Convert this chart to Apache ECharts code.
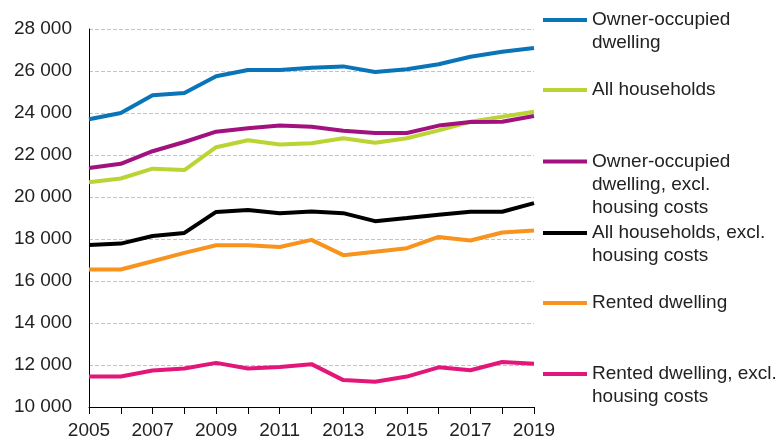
<!DOCTYPE html>
<html>
<head>
<meta charset="utf-8">
<script src="https://cdn.jsdelivr.net/npm/echarts@6/dist/echarts.min.js"></script>
<style>
  html, body { margin: 0; padding: 0; background: #fff; }
  #main { width: 777px; height: 444px; }
</style>
</head>
<body>
<div id="main"></div>
<script>
// years on the x axis
var years = ['2005','2006','2007','2008','2009','2010','2011','2012','2013','2014','2015','2016','2017','2018','2019'];

// series values
var ownerOccupied     = [23700, 24000, 24850, 24950, 25750, 26050, 26050, 26150, 26220, 25950, 26080, 26320, 26680, 26920, 27100];
var allHouseholds     = [20700, 20880, 21350, 21280, 22370, 22700, 22500, 22560, 22800, 22580, 22800, 23170, 23580, 23820, 24060];
var ownerOccExcl      = [21380, 21580, 22180, 22620, 23110, 23270, 23400, 23350, 23150, 23050, 23050, 23400, 23570, 23580, 23860];
var allHouseholdsExcl = [17720, 17780, 18140, 18290, 19290, 19380, 19230, 19310, 19230, 18850, 19000, 19160, 19300, 19300, 19710];
var rented            = [16550, 16550, 16940, 17340, 17700, 17700, 17620, 17960, 17230, 17390, 17560, 18100, 17930, 18310, 18400];
var rentedExcl        = [11450, 11450, 11740, 11830, 12100, 11830, 11900, 12040, 11280, 11200, 11450, 11890, 11750, 12140, 12060];

// legend texts (line breaks as in the picture)
var seriesNames = ['Owner-occupied dwelling', 'All households', 'Owner-occupied dwelling, excl. housing costs',
                   'All households, excl. housing costs', 'Rented dwelling', 'Rented dwelling, excl. housing costs'];
var legendLabels = ['Owner-occupied\ndwelling', 'All households', 'Owner-occupied\ndwelling, excl.\nhousing costs',
                    'All households, excl.\nhousing costs', 'Rented dwelling', 'Rented dwelling, excl.\nhousing costs'];
var seriesData = [ownerOccupied, allHouseholds, ownerOccExcl, allHouseholdsExcl, rented, rentedExcl];
var colors = ['#0a74b8', '#b9d433', '#a2127f', '#000000', '#f8931e', '#e3177a'];

var FONT = "'Liberation Sans', Arial, sans-serif";
var FS = 19;
var LH = 23;
var legendY = [20, 90, 161.5, 233, 303, 374]; // centre of first text line

var chart = echarts.init(document.getElementById('main'), null, { renderer: 'canvas' });

// one legend per series so each can sit where the picture has it,
// icon level with the first text line (blank lines pad the top)
var legends = seriesNames.map(function (name, i) {
  var label = legendLabels[i];
  var lines = label.split('\n').length;
  var padLines = '';
  for (var k = 1; k < lines; k++) padLines += '\n';
  return {
    data: [name],
    left: 543,
    top: legendY[i] - (2 * lines - 1) * LH / 2,
    orient: 'vertical',
    icon: 'rect',
    itemWidth: 44,
    itemHeight: 4,
    padding: 0,
    selectedMode: false,
    formatter: function () { return padLines + label; },
    textStyle: { fontFamily: FONT, fontSize: FS, lineHeight: LH, color: '#222' }
  };
});

var option = {
  animation: false,
  color: colors,
  textStyle: { fontFamily: FONT },
  grid: { left: 89, right: 243, top: 29, bottom: 37, containLabel: false },
  legend: legends,
  xAxis: {
    type: 'category',
    data: years,
    boundaryGap: false,
    axisLine: { lineStyle: { color: '#000', width: 1 } },
    axisTick: { show: true, interval: 0, length: 7, lineStyle: { color: '#000' } },
    axisLabel: { interval: 1, margin: 14, color: '#222', fontSize: FS, fontFamily: FONT },
    splitLine: { show: false }
  },
  yAxis: {
    type: 'value',
    min: 10000,
    max: 28000,
    interval: 2000,
    axisLine: { show: true, lineStyle: { color: '#000', width: 1 } },
    axisTick: { show: false },
    axisLabel: {
      margin: 17, color: '#222', fontSize: FS, fontFamily: FONT,
      formatter: function (v) { return String(v).replace(/\B(?=(\d{3})+(?!\d))/g, ' '); }
    },
    splitLine: { show: true, lineStyle: { color: '#c4c4c4', type: 'dashed', width: 1 } }
  },
  series: seriesNames.map(function (name, i) {
    return {
      name: name,
      type: 'line',
      data: seriesData[i],
      showSymbol: false,
      symbol: 'none',
      lineStyle: { width: 4, color: colors[i] },
      itemStyle: { color: colors[i] }
    };
  })
};

chart.setOption(option);
</script>
</body>
</html>
